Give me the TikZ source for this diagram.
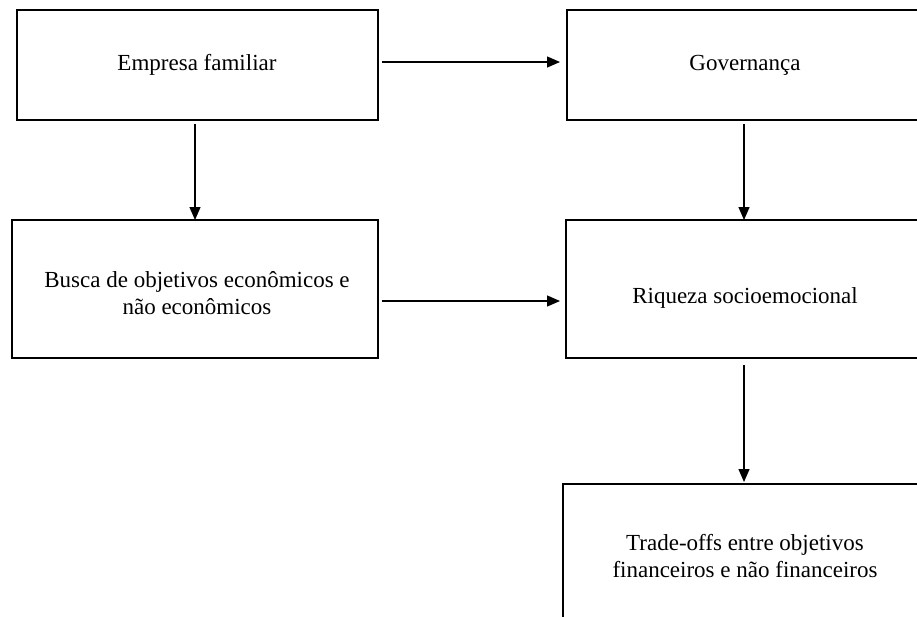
\documentclass[tikz,border=0pt]{standalone}
\usepackage{fontspec}
\setmainfont{Liberation Serif}
\usetikzlibrary{arrows.meta,calc}
\tikzset{
  box/.style={draw=black, line width=1.8pt, rectangle, anchor=north west, outer sep=0pt, inner sep=0pt},
  lbl/.style={align=center, font=\fontsize{23}{27}\selectfont, inner sep=0pt},
  arr/.style={draw=black, line width=1.3pt, -{Triangle[length=13pt,width=11pt]}}
}
\begin{document}
\begin{tikzpicture}[x=1pt,y=-1pt]
\useasboundingbox (0,0) rectangle (917,616);
\fill[white] (0,0) rectangle (917,616);
\node[box, minimum width=361pt, minimum height=110pt] (b1) at (17,10) {};
\node[box, minimum width=356pt, minimum height=110pt] (b2) at (567,10) {};
\node[box, minimum width=366pt, minimum height=138pt] (b3) at (12,220) {};
\node[box, minimum width=356pt, minimum height=138pt] (b4) at (566,220) {};
\node[box, minimum width=364pt, minimum height=160pt] (b5) at (563,484) {};
\node[lbl] (t1) at (197,65) {Empresa familiar};
\node[lbl] (t2) at (745,65) {Governança};
\node[lbl] (t3) at (197,293) {Busca de objetivos econômicos e\\não econômicos};
\node[lbl] (t4) at (745,298) {Riqueza socioemocional};
\node[lbl] (t5) at (745,556) {Trade-offs entre objetivos\\financeiros e não financeiros};
\draw[arr] ($(b1.east)+(4,-3)$) -- ($(b2.west)+(-7,-3)$);
\draw[arr] ($(b3.east)+(4,12)$) -- ($(b4.west)+(-6,12)$);
\draw[arr] ($(b1.south)+(-2.5,4)$) -- (b3.north);
\draw[arr] ($(b2.south)+(-1,4)$) -- (b4.north);
\draw[arr] ($(b4.south)+(0,7)$) -- ($(b5.north)+(-1,-2)$);
\end{tikzpicture}
\end{document}
